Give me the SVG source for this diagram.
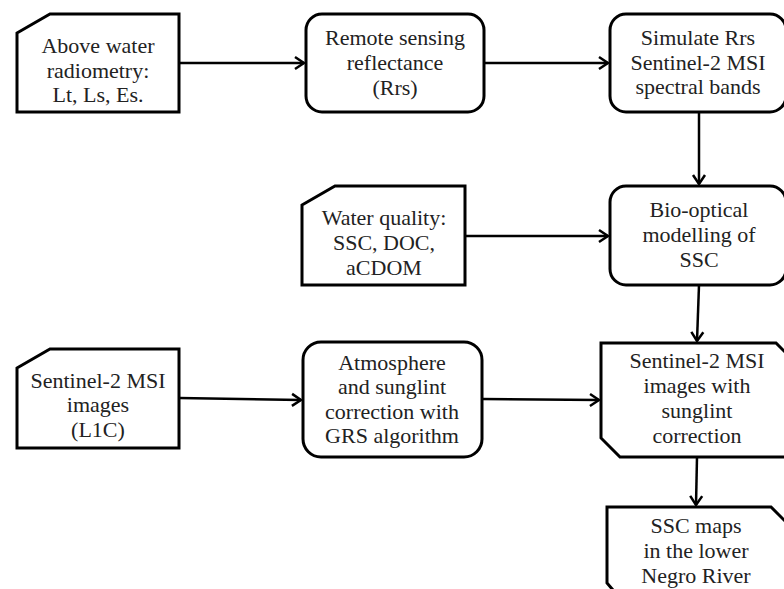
<svg xmlns="http://www.w3.org/2000/svg" width="784" height="589" viewBox="0 0 784 589">
<style>
.n{fill:#fff;stroke:#000;stroke-width:3;stroke-linejoin:miter}
.c{fill:none;stroke:#000;stroke-width:2.5}
text{font-family:"Liberation Serif","DejaVu Serif",serif;font-size:22px;fill:#222;text-anchor:middle}
</style>
<defs>
<marker id="ah" markerUnits="userSpaceOnUse" markerWidth="16" markerHeight="16" viewBox="-12 -8 14 16" refX="0" refY="0" orient="auto">
<path d="M-9,-6 L0,0 L-9,6" fill="none" stroke="#000" stroke-width="2.5"/>
</marker>
</defs>
<rect width="784" height="589" fill="#fff"/>
<g id="connectors">
<line class="c" x1="179" y1="63" x2="304" y2="63" marker-end="url(#ah)"/>
<line class="c" x1="484" y1="63" x2="608" y2="63" marker-end="url(#ah)"/>
<line class="c" x1="699" y1="112" x2="699" y2="184" marker-end="url(#ah)"/>
<line class="c" x1="465" y1="236" x2="608" y2="236" marker-end="url(#ah)"/>
<line class="c" x1="699" y1="285" x2="697" y2="341" marker-end="url(#ah)"/>
<line class="c" x1="179" y1="398" x2="301" y2="400" marker-end="url(#ah)"/>
<line class="c" x1="482" y1="399" x2="599" y2="400" marker-end="url(#ah)"/>
<line class="c" x1="697" y1="457" x2="696" y2="505" marker-end="url(#ah)"/>
</g>
<g id="above-water">
<path class="n" d="M17,33 L50,14 L179,14 L179,112 L17,112 Z"/>
<text x="98" y="53">Above water</text>
<text x="98" y="78">radiometry:</text>
<text x="98" y="102">Lt, Ls, Es.</text>
</g>
<g id="rrs">
<rect class="n" x="306" y="14" width="178" height="98" rx="16"/>
<text x="395" y="45">Remote sensing</text>
<text x="395" y="70">reflectance</text>
<text x="395" y="95">(Rrs)</text>
</g>
<g id="simulate">
<rect class="n" x="610" y="14" width="176" height="98" rx="16"/>
<text x="698" y="45">Simulate Rrs</text>
<text x="698" y="70">Sentinel-2 MSI</text>
<text x="698" y="94">spectral bands</text>
</g>
<g id="water-quality">
<path class="n" d="M302,205 L335,186 L465,186 L465,285 L302,285 Z"/>
<text x="384" y="225">Water quality:</text>
<text x="384" y="250">SSC, DOC,</text>
<text x="384" y="275">aCDOM</text>
</g>
<g id="bio-optical">
<rect class="n" x="610" y="186" width="176" height="99" rx="16"/>
<text x="699" y="217">Bio-optical</text>
<text x="699" y="242">modelling of</text>
<text x="699" y="267">SSC</text>
</g>
<g id="l1c">
<path class="n" d="M17,368 L50,349 L179,349 L179,448 L17,448 Z"/>
<text x="98" y="388">Sentinel-2 MSI</text>
<text x="98" y="412">images</text>
<text x="98" y="437">(L1C)</text>
</g>
<g id="atmosphere">
<rect class="n" x="303" y="342" width="179" height="115" rx="18"/>
<text x="392" y="370">Atmosphere</text>
<text x="392" y="394">and sunglint</text>
<text x="392" y="419">correction with</text>
<text x="392" y="443">GRS algorithm</text>
</g>
<g id="sunglint">
<path class="n" d="M601,343 L776,343 L796,363 L796,457 L620,457 L601,438 Z"/>
<text x="697" y="368">Sentinel-2 MSI</text>
<text x="697" y="393">images with</text>
<text x="697" y="418">sunglint</text>
<text x="697" y="443">correction</text>
</g>
<g id="ssc-maps">
<path class="n" d="M607,507 L771,507 L791,527 L791,610 L630,610 L607,583 Z"/>
<text x="696" y="533">SSC maps</text>
<text x="696" y="558">in the lower</text>
<text x="696" y="583">Negro River</text>
</g>
</svg>
